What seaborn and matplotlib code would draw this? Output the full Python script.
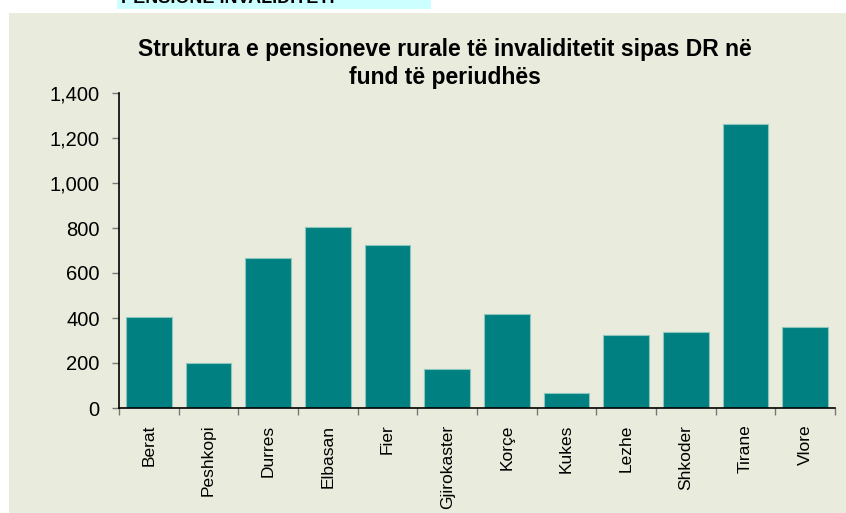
import matplotlib
matplotlib.use("Agg")
import matplotlib.pyplot as plt
import matplotlib.patches as mpatches
from matplotlib.ticker import FuncFormatter, FixedLocator
import seaborn as sns
import pandas as pd

# Data
districts = ["Berat", "Peshkopi", "Durres", "Elbasan", "Fier", "Gjirokaster",
             "Korçe", "Kukes", "Lezhe", "Shkoder", "Tirane", "Vlore"]
pensions = [403, 200, 665, 806, 724, 172, 416, 67, 323, 336, 1264, 359]

title = "Struktura e pensioneve rurale të invaliditetit sipas DR në\nfund të periudhës"
header = "PENSIONE INVALIDITETI"

bg = "#E9ECDC"
bar_color = "#008080"

sns.set_theme(style="ticks")
plt.rcParams["font.family"] = ["Liberation Sans", "DejaVu Sans"]
plt.rcParams["text.color"] = "black"
plt.rcParams["xtick.labelcolor"] = "black"
plt.rcParams["ytick.labelcolor"] = "black"

df = pd.DataFrame({"district": districts, "value": pensions})

fig = plt.figure(figsize=(8.46, 5.13), dpi=100, facecolor="white")

# chart area background and the cut-off header box above it
fig.patches.append(mpatches.Rectangle((9 / 846, 0), 1, 500 / 513, transform=fig.transFigure,
                                      facecolor=bg, edgecolor="none", zorder=-2))
fig.patches.append(mpatches.Rectangle((117 / 846, 1 - 9 / 513), 314 / 846, 9 / 513,
                                      transform=fig.transFigure, facecolor="#CCFFFF",
                                      edgecolor="none", zorder=-2))
fig.text(121 / 846, 1 - 3 / 513, header, fontsize=13, fontweight="bold",
         va="baseline", ha="left", color="black")

ax = fig.add_axes([119 / 846, 1 - 408 / 513, 716 / 846, 315 / 513])
ax.set_facecolor(bg)

sns.barplot(data=df, x="district", y="value", color=bar_color, width=0.77,
            edgecolor="#8CC6BD", linewidth=0.8, saturation=1, ax=ax)

ax.set_xlim(-0.5, len(districts) - 0.5)
ax.set_ylim(0, 1400)
ax.set_yticks(range(0, 1401, 200))
ax.yaxis.set_major_formatter(FuncFormatter(lambda v, p: f"{int(v):,}"))

ax.set_xticks(range(len(districts)))
ax.set_xticklabels(districts, rotation=90, fontsize=12.5)
ax.tick_params(axis="x", which="major", length=0, pad=12)
ax.xaxis.set_minor_locator(FixedLocator([i - 0.5 for i in range(len(districts) + 1)]))
ax.tick_params(axis="x", which="minor", length=5, color="#777777", width=1)
ax.tick_params(axis="y", length=5, width=1, color="#777777", labelsize=14.5, pad=9)

for side in ["top", "right"]:
    ax.spines[side].set_visible(False)
for side in ["left", "bottom"]:
    ax.spines[side].set_color("black")
    ax.spines[side].set_linewidth(1.2)

ax.set_xlabel("")
ax.set_ylabel("")

fig.text(445 / 846, 1 - 38 / 513, title, ha="center", va="top", fontsize=16.5,
         fontweight="bold", linespacing=1.3, color="black")

fig.savefig("out.png", dpi=100, facecolor="white")
